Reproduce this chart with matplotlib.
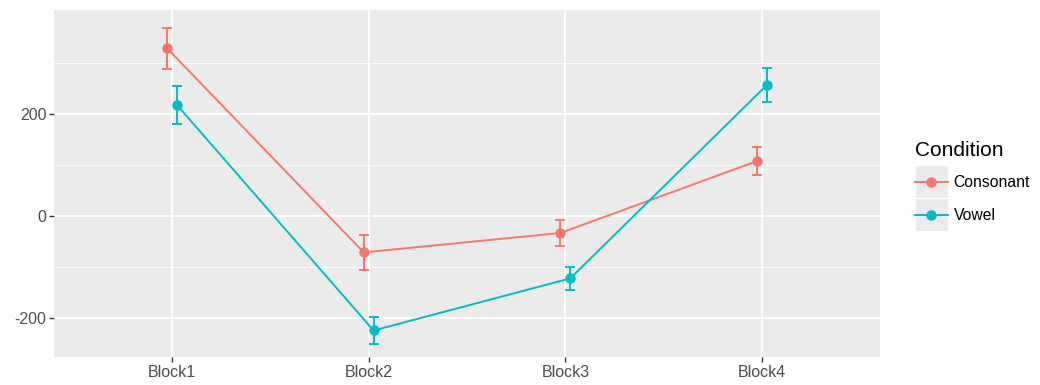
import numpy as np
import matplotlib
matplotlib.use('Agg')
import matplotlib.pyplot as plt
from matplotlib.legend_handler import HandlerLine2D
from matplotlib.patches import Rectangle
from matplotlib.lines import Line2D

blocks = ['Block1', 'Block2', 'Block3', 'Block4']
conditions = ['Consonant', 'Vowel']
consonant_mean = [329, -71, -33, 108]
consonant_se = [40, 35, 26, 27]
vowel_mean = [218, -224, -122, 257]
vowel_se = [38, 27, 22, 33]

colors = {'Consonant': '#F8766D', 'Vowel': '#00BFC4'}
dodge = {'Consonant': -0.025, 'Vowel': 0.025}
series = {'Consonant': (consonant_mean, consonant_se),
          'Vowel': (vowel_mean, vowel_se)}

plt.rcParams['font.family'] = ['Liberation Sans', 'DejaVu Sans']
plt.rcParams['axes.unicode_minus'] = False


class KeyHandler(HandlerLine2D):
    # legend key with the grey panel square behind it
    def create_artists(self, legend, orig_handle, xdescent, ydescent,
                       width, height, fontsize, trans):
        yc = -ydescent + height / 2
        bg = Rectangle((-xdescent, yc - 11.8), width, 23.6,
                       facecolor='#EBEBEB', edgecolor='white', lw=0.8,
                       transform=trans)
        arts = super().create_artists(legend, orig_handle, xdescent, ydescent,
                                      width, height, fontsize, trans)
        return [bg] + arts


fig = plt.figure(figsize=(10.4, 3.85), dpi=100)
ax = fig.add_axes([54 / 1040, 28 / 385, 826 / 1040, 347 / 385])
ax.set_facecolor('#EBEBEB')

x = np.arange(1, len(blocks) + 1)
for cond in conditions:
    m, se = series[cond]
    m = np.array(m, dtype=float)
    se = np.array(se, dtype=float)
    xs = x + dodge[cond]
    ax.plot(xs, m, color=colors[cond], lw=1.4, zorder=3)
    ax.errorbar(xs, m, yerr=se, fmt='o', ms=6.5, color=colors[cond],
                ecolor=colors[cond], elinewidth=1.4, capsize=3.5,
                capthick=1.4, zorder=4)

ax.set_xlim(0.4, 4.6)
ax.set_ylim(-276, 404)
ax.set_xticks(x)
ax.set_xticklabels(blocks)
ax.set_yticks([-200, 0, 200])
ax.set_yticks([-100, 100, 300], minor=True)

ax.grid(True, which='major', color='white', lw=1.3)
ax.grid(True, which='minor', axis='y', color='white', lw=0.6)
ax.set_axisbelow(True)
for s in ax.spines.values():
    s.set_visible(False)
ax.tick_params(axis='both', which='major', length=3.5, width=1,
               color='#333333', labelcolor='#4D4D4D', labelsize=11.5, pad=2)
ax.tick_params(axis='y', which='minor', length=0)

# legend title drawn separately so the keys sit closer under it
fig.text(915 / 1040, 1 - 150 / 385, 'Condition', fontsize=15,
         ha='left', va='center')
handles = [Line2D([], [], color=colors[c], lw=1.4, marker='o', ms=6.5)
           for c in conditions]
leg = fig.legend(handles, conditions,
                 loc='upper left', bbox_to_anchor=(915 / 1040, 1 - 175 / 385),
                 frameon=False, fontsize=11.3,
                 borderpad=0, borderaxespad=0,
                 handlelength=2.1, handletextpad=0.35, labelspacing=1.15,
                 handler_map={Line2D: KeyHandler()})

fig.savefig('out.png', dpi=100)
